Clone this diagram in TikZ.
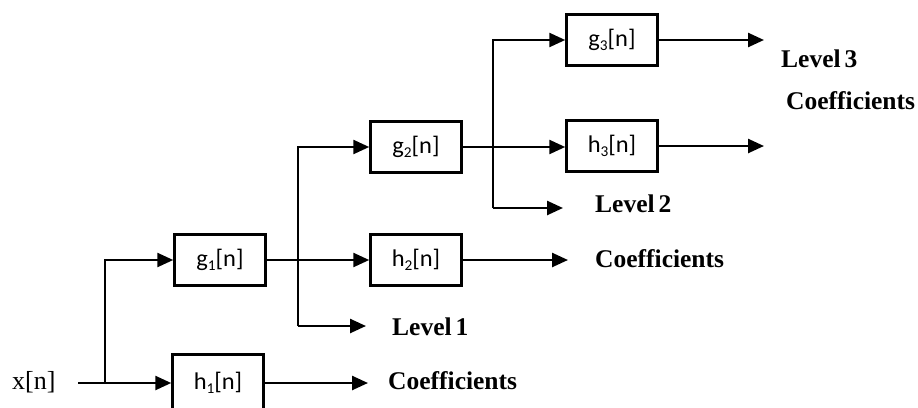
\documentclass[tikz,border=0pt]{standalone}
\usepackage{fontspec}
\setmainfont{Liberation Serif}
\newfontfamily\boxfont{Carlito}
\usetikzlibrary{arrows.meta}
\newcommand\sbd[1]{\raisebox{-3.5pt}{\fontsize{15}{15}\selectfont #1}}
\newcommand\flt[2]{\scalebox{1.02}[1]{#1\sbd{#2}[n]}}
\tikzset{
  filt/.style={draw, line width=2.5pt, minimum width=91pt, minimum height=51pt, inner sep=0pt,
    font=\boxfont\fontsize{24}{24}\selectfont},
  lab/.style={font=\bfseries\fontsize{25.5}{25.5}\selectfont, inner sep=0pt, anchor=base west},
  conn/.style={line width=2.5pt},
  arr/.style={conn, -{Triangle[length=16pt,width=14pt]}}
}
\begin{document}
\begin{tikzpicture}[x=1pt,y=-1pt]
\useasboundingbox (0,0) rectangle (918,407);
\clip (0,0) rectangle (918,407);
% filter boxes
\node[filt] (g1) at (220,260) {\flt{g}{1}};
\node[filt, minimum height=57pt] (h1) at (218,383) {\flt{h}{1}};
\node[filt] (g2) at (416,147) {\flt{g}{2}};
\node[filt] (h2) at (416,260) {\flt{h}{2}};
\node[filt] (g3) at (612,40) {\flt{g}{3}};
\node[filt] (h3) at (612,146) {\flt{h}{3}};
% labels
\node[inner sep=0pt, anchor=base west, font=\fontsize{26}{26}\selectfont] (x) at (12,389) {x[n]};
\node[lab] (c1) at (388,389) {Coefficients};
\node[lab] (lv1) at (392,335) {Level\kern4pt 1};
\node[lab] (c2) at (595,267) {Coefficients};
\node[lab] (lv2) at (595,212) {Level\kern4pt 2};
\node[lab] (lv3) at (781,67) {Level\kern4pt 3};
\node[lab] (c3) at (786,109) {Coefficients};
% coordinates
\coordinate (s) at (78,383);
\coordinate (b0) at (105,383);
\coordinate (l1s) at (298,326);
\coordinate (l1e) at (366,326);
\coordinate (l2s) at (493,208);
\coordinate (l2e) at (563,208);
\coordinate (o1) at (368,383);
\coordinate (o2) at (568,260);
\coordinate (o3) at (764,40);
\coordinate (o4) at (764,146);
% connectors
\draw[arr] (s) -- (h1.west);
\draw[arr] (b0) |- (g1.west);
\draw[arr] (g1.east) -- (h2.west);
\draw[arr] (l1s) |- (g2.west);
\draw[arr] (l1s) -- (l1e);
\draw[arr] (h1.east) -- (o1);
\draw[arr] (h2.east) -- (o2);
\draw[arr] (g2.east) -- (g2.east -| h3.west);
\draw[arr] (l2s) |- (g3.west);
\draw[arr] (l2s) -- (l2e);
\draw[arr] (g3.east) -- (o3);
\draw[arr] (h3.east) -- (o4);
\end{tikzpicture}
\end{document}
